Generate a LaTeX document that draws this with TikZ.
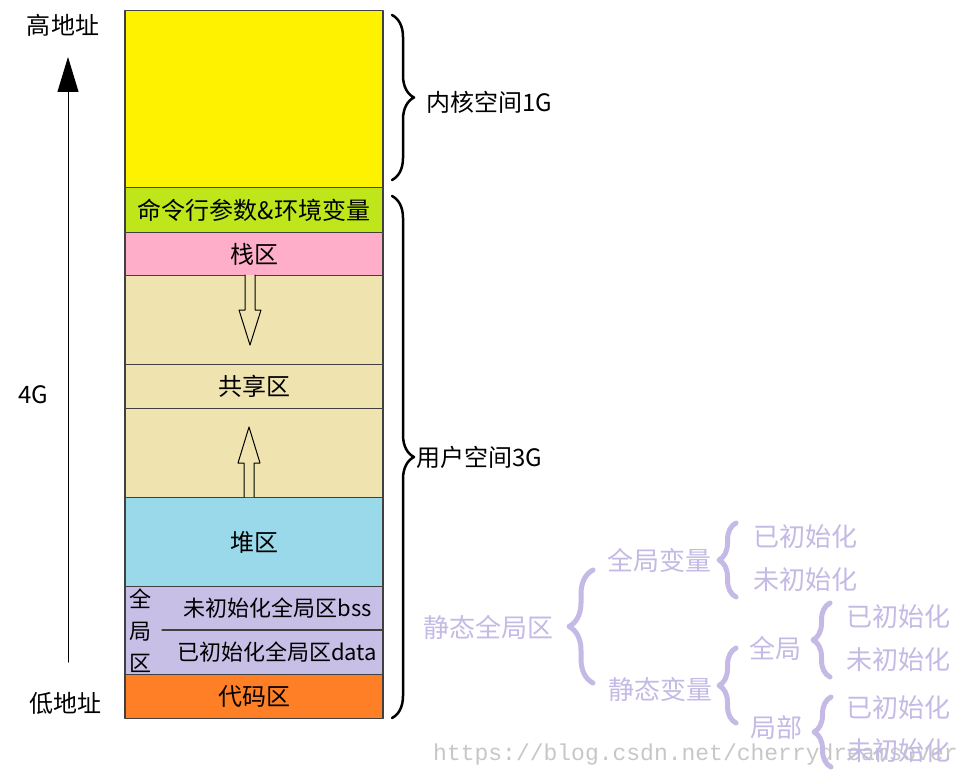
\documentclass[tikz,border=0pt]{standalone}
\usepackage{fontspec}
\setmainfont{Noto Sans CJK SC}
\newfontfamily\markfont{Liberation Mono}
\usetikzlibrary{decorations.pathreplacing,arrows.meta}
\definecolor{kyellow}{RGB}{255,242,0}
\definecolor{kgreen}{RGB}{190,230,26}
\definecolor{kpink}{RGB}{255,174,201}
\definecolor{kbeige}{RGB}{239,228,176}
\definecolor{kblue}{RGB}{153,217,234}
\definecolor{klilac}{RGB}{200,191,231}
\definecolor{korange}{RGB}{255,127,39}
\definecolor{lavtext}{RGB}{196,186,229}
\begin{document}
\begin{tikzpicture}[x=1pt, y=-1pt, line join=round, line cap=round,
	font=\fontsize{24}{28}\selectfont,
	seg/.style={draw=black!75, line width=1.2pt, minimum width=258pt, inner sep=0pt, anchor=north},
	small/.style={font=\fontsize{22}{32}\selectfont, inner sep=0pt},
	bigbrace/.style={decorate, decoration={brace, amplitude=22pt}, line width=2.5pt},
	lavbrace/.style={decorate, decoration={brace, amplitude=17pt}, draw=lavtext, line width=5pt},
	treetext/.style={text=lavtext, font=\fontsize{26}{30}\selectfont, inner sep=0pt}]
				\path[use as bounding box, fill=white] (0,0) rectangle (968,770);
				% watermark
				\node[font=\markfont\fontsize{23}{26}\selectfont, text=black!22, anchor=west, inner sep=0pt] (mark) at (433,755) {https://blog.csdn.net/cherrydreamsover};
				% memory column
				\node[seg, fill=kyellow, minimum height=177pt] (kernel) at (254,10) {};
				\node[seg, fill=kgreen, minimum height=45pt] (args) at (254,187) {命令行参数\&环境变量};
				\node[seg, fill=kpink, minimum height=43pt] (stack) at (254,232) {栈区};
				\node[seg, fill=kbeige, minimum height=89pt] (gapup) at (254,275) {};
				\node[seg, fill=kbeige, minimum height=44pt] (shared) at (254,364) {共享区};
				\node[seg, fill=kbeige, minimum height=89pt] (gapdown) at (254,408) {};
				\node[seg, fill=kblue, minimum height=89pt] (heap) at (254,497) {堆区};
				\node[seg, fill=klilac, minimum height=88pt] (global) at (254,586) {};
				\node[seg, fill=korange, minimum height=44pt] (code) at (254,674) {代码区};
				\draw[draw=black!75, line width=1.2pt] (162,630)--(383,630);
				\node[small] (bss) at (278,608) {未初始化全局区bss};
				\node[small] (data) at (277,652) {已初始化全局区data};
				\node[small, align=center] (globalname) at (140,631) {全\\局\\区};
				% growth arrows
				\draw[fill=kbeige, line width=1pt] (245,275)--(245,310)--(239,310)--(250,345)--(261,310)--(255,310)--(255,275);
				\draw[fill=kbeige, line width=1pt] (244,497)--(244,463)--(238,463)--(249,427)--(260,463)--(254,463)--(254,497);
				% address axis
				\coordinate (low) at (68,662);
				\coordinate (high) at (68,57);
				\draw[-{Triangle[length=35pt,width=21pt]}, line width=1pt] (low)--(high);
				\node (highaddr) at (63,25) {高地址};
				\node (size) at (33,395) {4G};
				\node (lowaddr) at (65,703) {低地址};
				% spaces
				\draw[bigbrace] (392,15)--(392,180);
				\node[anchor=west, inner sep=2pt] (kspace) at (424,102) {内核空间1G};
				\draw[bigbrace] (392,196)--(392,718);
				\node[anchor=west, inner sep=2pt] (uspace) at (414,457) {用户空间3G};
				% static area tree
				\node[treetext] (static) at (488,627) {静态全局区};
				\draw[lavbrace, decoration={amplitude=24pt}] (593,683)--(593,570);
				\node[treetext] (gvar) at (659,560) {全局变量};
				\node[treetext] (svar) at (660,690) {静态变量};
				\draw[lavbrace] (736,597)--(736,523);
				\draw[lavbrace] (736,723)--(736,648);
				\node[treetext] (sglobal) at (775,648) {全局};
				\node[treetext] (slocal) at (776,728) {局部};
				\draw[lavbrace] (830,677)--(830,603);
				\draw[lavbrace] (831,767)--(831,697);
				\foreach \n/\x/\y in {g/805/537, sg/898/617, sl/898/708}{
				\node[treetext] (\n-init) at (\x,\y) {已初始化};
				\node[treetext] (\n-none) at (\x,\y+43) {未初始化};
				}
			\end{tikzpicture}
\end{document}
